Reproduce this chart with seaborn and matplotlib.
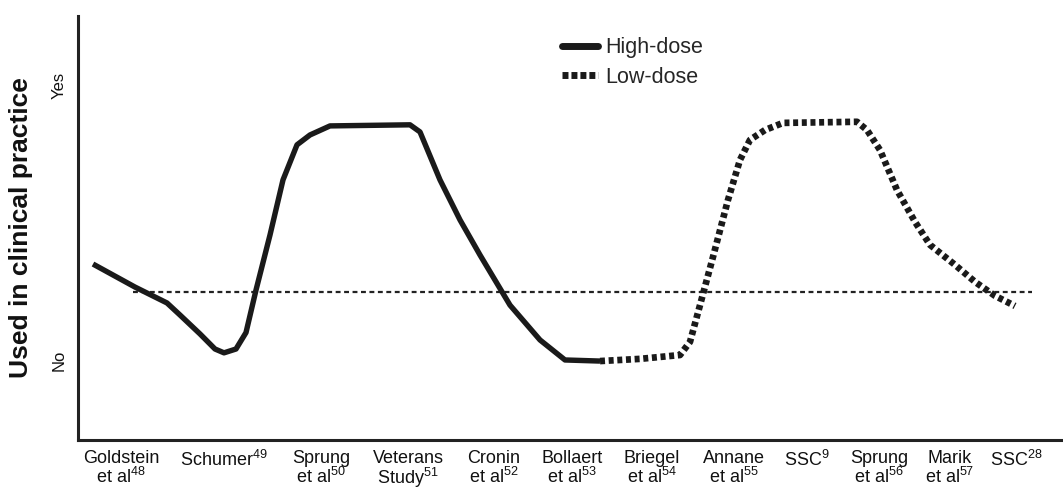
import numpy as np
import pandas as pd
import matplotlib
matplotlib.use("Agg")
import matplotlib.pyplot as plt
import seaborn as sns
from matplotlib.lines import Line2D

sns.set_theme(style="white")
plt.rcParams['font.family'] = ['Liberation Sans', 'DejaVu Sans']
plt.rcParams['mathtext.fontset'] = 'custom'
plt.rcParams['mathtext.rm'] = 'Liberation Sans'
plt.rcParams['mathtext.it'] = 'Liberation Sans:italic'
plt.rcParams['mathtext.bf'] = 'Liberation Sans:bold'

# ---- data -------------------------------------------------------------
studies = ["Goldstein\net al$^{48}$", "Schumer$^{49}$", "Sprung\net al$^{50}$",
           "Veterans\nStudy$^{51}$", "Cronin\net al$^{52}$", "Bollaert\net al$^{53}$",
           "Briegel\net al$^{54}$", "Annane\net al$^{55}$", "SSC$^{9}$",
           "Sprung\net al$^{56}$", "Marik\net al$^{57}$", "SSC$^{28}$"]
study_pos = [121, 224, 321, 408, 494, 572, 652, 734, 807, 879, 950, 1016]

high_x = [93, 135, 167, 180, 200, 215, 224, 236, 246, 256, 270, 283, 297, 310,
          330, 410, 420, 440, 460, 480, 510, 540, 565, 600]
high_y = [0.35, 0.266, 0.208, 0.164, 0.095, 0.04, 0.026, 0.04, 0.10, 0.255, 0.456,
          0.657, 0.785, 0.821, 0.854, 0.858, 0.832, 0.657, 0.511, 0.383, 0.20,
          0.073, 0.0, -0.004]

low_x = [600, 640, 680, 690, 700, 713, 728, 740, 750, 765, 783, 857, 867, 880,
         897, 915, 930, 955, 975, 995, 1015]
low_y = [-0.004, 0.004, 0.018, 0.066, 0.20, 0.376, 0.584, 0.73, 0.803, 0.839,
         0.865, 0.869, 0.839, 0.766, 0.62, 0.504, 0.42, 0.347, 0.285, 0.234, 0.197]

ref_x = [133, 1032]
ref_y = [0.248, 0.248]

ytick_vals = [0, 1]
ytick_labels = ["No", "Yes"]
legend_labels = ["High-dose", "Low-dose"]

# ---- figure -----------------------------------------------------------
W, H = 1063, 491
fig = plt.figure(figsize=(W / 100, H / 100), dpi=100)
ax = fig.add_axes([78 / W, (H - 440) / H, (W - 78) / W, (440 - 16) / H])

high_df = pd.DataFrame({"x": high_x, "y": high_y})
low_df = pd.DataFrame({"x": low_x, "y": low_y})
ref_df = pd.DataFrame({"x": ref_x, "y": ref_y})

sns.lineplot(data=ref_df, x="x", y="y", ax=ax, color="#222222", linewidth=1.6,
             linestyle=(0, (2.2, 1.6)), sort=False, estimator=None)
sns.lineplot(data=high_df, x="x", y="y", ax=ax, color="#1a1a1a", linewidth=3.9,
             sort=False, estimator=None, solid_joinstyle="round",
             solid_capstyle="butt")
sns.lineplot(data=low_df, x="x", y="y", ax=ax, color="#1a1a1a", linewidth=4.8,
             linestyle=(0, (0.75, 0.55)), sort=False, estimator=None,
             dash_capstyle="butt", dash_joinstyle="round")

ax.set_xlim(78, W)
ax.set_ylim(-0.292, 1.255)

ax.set_xticks(study_pos)
ax.set_xticklabels(studies, fontsize=13, linespacing=0.98, color="#111111")
ax.set_yticks(ytick_vals)
ax.set_yticklabels(ytick_labels, fontsize=12, rotation=90, va="center",
                   color="#111111")
ax.tick_params(axis="both", length=0)
ax.tick_params(axis="x", pad=7)
ax.tick_params(axis="y", pad=8)

ax.set_xlabel("")
ax.set_ylabel("Used in clinical practice", fontsize=19, fontweight="bold",
              color="#111111")
ax.yaxis.set_label_coords((33 - 78) / (W - 78), 0.5)

for s in ["top", "right"]:
    ax.spines[s].set_visible(False)
for s in ["left", "bottom"]:
    ax.spines[s].set_linewidth(2.2)
    ax.spines[s].set_color("#222222")

handles = [Line2D([], [], color="#1a1a1a", linewidth=5),
           Line2D([], [], color="#1a1a1a", linewidth=5,
                  linestyle=(0, (0.86, 0.43)), dash_capstyle="butt")]
leg = fig.legend(handles, legend_labels, loc="upper left",
                 bbox_to_anchor=(543 / W, 1 - 18 / H), frameon=False,
                 fontsize=15.5, handlelength=1.67, handletextpad=0.3,
                 labelspacing=0.4)

fig.savefig("out.png", dpi=100)
